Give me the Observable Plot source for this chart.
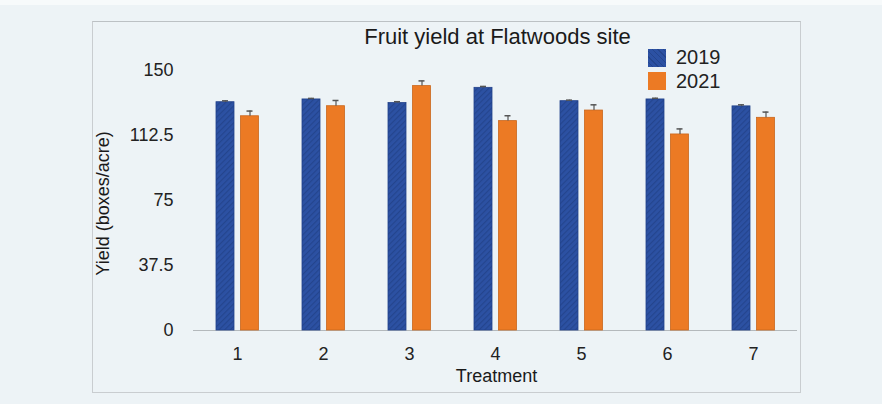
<!DOCTYPE html>
<html>
<head>
<meta charset="utf-8">
<script src="https://cdn.jsdelivr.net/npm/d3@7"></script>
<script src="https://cdn.jsdelivr.net/npm/@observablehq/plot@0.6"></script>
<style>
  html, body { margin: 0; padding: 0; background: #edf3f6; }
  #wrap { position: relative; width: 882px; height: 404px; overflow: hidden; font-family: "Liberation Sans", Arial, sans-serif; color: #222; }
  #topstrip { position: absolute; left: 0; top: 0; width: 882px; height: 5px; background: #f7fafb; }
  #frame { position: absolute; left: 92px; top: 21px; width: 707px; height: 370px; border: 1.5px solid #c9cdd0; border-top-color: #bcc1c4; }
  #chart { position: absolute; left: 0; top: 0; }
  .lg { position: absolute; font-size: 20px; line-height: 20px; }
  .sw { position: absolute; width: 18px; height: 18px; }
</style>
</head>
<body>
<div id="wrap">
  <div id="topstrip"></div>
  <div id="frame"></div>
  <div id="chart"></div>
</div>
<script>
const treatments = [1, 2, 3, 4, 5, 6, 7];
const years = ["2019", "2021"];
const yield2019 = [131.7, 133.3, 131.2, 140.0, 132.3, 133.3, 129.3];
const yield2021 = [123.6, 129.4, 141.0, 120.8, 126.9, 113.1, 122.7];
const err2019 = [0.8, 0.6, 0.8, 0.8, 0.6, 0.7, 0.9];
const err2021 = [3.0, 3.3, 3.0, 3.1, 3.3, 3.2, 3.3];
const yTicks = [0, 37.5, 75, 112.5, 150];
const titleText = "Fruit yield at Flatwoods site";
const xLabel = "Treatment";
const yLabel = "Yield (boxes/acre)";

const colors = {"2019": "#2c51a3", "2021": "#ec7a24"};

const d19 = treatments.map((t, i) => ({treatment: t, year: years[0], value: yield2019[i], err: err2019[i]}));
const d21 = treatments.map((t, i) => ({treatment: t, year: years[1], value: yield2021[i], err: err2021[i]}));

const NS = "http://www.w3.org/2000/svg";
function defsMark() {
  const defs = document.createElementNS(NS, "defs");
  const pat = document.createElementNS(NS, "pattern");
  pat.setAttribute("id", "hatch19");
  pat.setAttribute("patternUnits", "userSpaceOnUse");
  pat.setAttribute("width", "4");
  pat.setAttribute("height", "4");
  pat.setAttribute("patternTransform", "rotate(45)");
  const bg = document.createElementNS(NS, "rect");
  bg.setAttribute("width", "4"); bg.setAttribute("height", "4"); bg.setAttribute("fill", colors["2019"]);
  const ln = document.createElementNS(NS, "rect");
  ln.setAttribute("width", "1.2"); ln.setAttribute("height", "4"); ln.setAttribute("fill", "#24458e");
  pat.appendChild(bg); pat.appendChild(ln);
  defs.appendChild(pat);
  return defs;
}

const font = "'Liberation Sans', Arial, sans-serif";

const chart = Plot.plot({
  width: 882,
  height: 404,
  marginLeft: 193,
  marginRight: 85,
  marginTop: 70,
  marginBottom: 74,
  style: {background: "transparent", fontFamily: font, fontSize: "18px", color: "#222", overflow: "visible"},
  x: {type: "band", domain: treatments, padding: 0, label: null},
  y: {domain: [0, 150], label: null},
  marks: [
    defsMark,
    Plot.axisY({ticks: yTicks, tickSize: 0, tickPadding: 20, tickFormat: d => String(d), fontSize: 18, label: null}),
    Plot.axisX({tickSize: 0, tickPadding: 17, fontSize: 18, label: null}),
    Plot.ruleY([0], {stroke: "#b4b9bc", strokeWidth: 1.2}),
    Plot.barY(d19, {x: "treatment", y: "value", dx: -12, insetLeft: 34, insetRight: 34, fill: "url(#hatch19)", stroke: "#22418a", strokeWidth: 0.8}),
    Plot.barY(d21, {x: "treatment", y: "value", dx: 12.5, insetLeft: 34, insetRight: 34, fill: colors["2021"], stroke: "#c9661c", strokeWidth: 0.8}),
    Plot.ruleX(d19, {x: "treatment", y1: "value", y2: d => d.value + d.err, dx: -12, stroke: "#555", strokeWidth: 1.2}),
    Plot.tickY(d19, {x: "treatment", y: d => d.value + d.err, dx: -12, insetLeft: 40, insetRight: 40, stroke: "#555", strokeWidth: 1.5}),
    Plot.ruleX(d21, {x: "treatment", y1: "value", y2: d => d.value + d.err, dx: 12.5, stroke: "#555", strokeWidth: 1.2}),
    Plot.tickY(d21, {x: "treatment", y: d => d.value + d.err, dx: 12.5, insetLeft: 40, insetRight: 40, stroke: "#555", strokeWidth: 1.5}),
    Plot.text([titleText], {frameAnchor: "top", lineAnchor: "bottom", dy: -26.5, dx: 2, fontSize: 22, fill: "#1a1a1a"}),
    Plot.text([xLabel], {frameAnchor: "bottom", dy: 51, dx: 1, fontSize: 18, fill: "#1a1a1a"}),
    Plot.text([yLabel], {frameAnchor: "left", textAnchor: "middle", rotate: -90, dx: -90, dy: 3, fontSize: 18, fill: "#1a1a1a"})
  ]
});
document.getElementById("chart").appendChild(chart);

// Legend
const wrap = document.getElementById("wrap");
const legendTop = [48.5, 72];
years.forEach((yr, i) => {
  const sw = document.createElement("div");
  sw.className = "sw";
  sw.style.left = "648px";
  sw.style.top = legendTop[i] + "px";
  sw.style.background = i === 0
    ? "repeating-linear-gradient(45deg, #2c51a3 0 3px, #24458e 3px 4px)"
    : colors[yr];
  wrap.appendChild(sw);
  const tx = document.createElement("div");
  tx.className = "lg";
  tx.style.left = "676px";
  tx.style.top = (legendTop[i] - 1.5) + "px";
  tx.textContent = yr;
  wrap.appendChild(tx);
});
</script>
</body>
</html>
